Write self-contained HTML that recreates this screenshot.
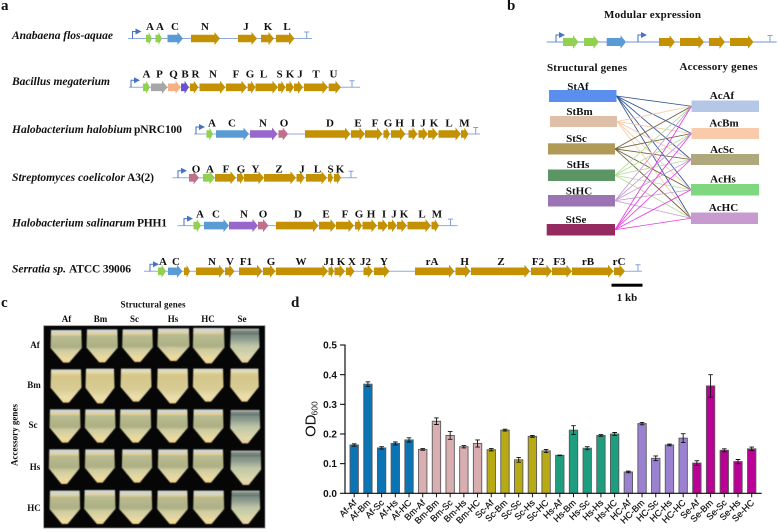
<!DOCTYPE html>
<html>
<head>
<meta charset="utf-8">
<style>
html,body{margin:0;padding:0;background:#fff;}
#fig{display:block;filter:blur(0.3px);}
text{font-family:"Liberation Serif",serif;font-weight:bold;fill:#111;}
.sans{font-family:"Liberation Sans",sans-serif;}
.reg{font-weight:normal;}
</style>
</head>
<body>
<svg id="fig" width="778" height="532" viewBox="0 0 778 532" xmlns="http://www.w3.org/2000/svg">
<defs>
<linearGradient id="tube-std" x1="0" y1="0" x2="0" y2="1">
<stop offset="0" stop-color="#d0d5cf"/><stop offset=".13" stop-color="#d4d6c2"/><stop offset=".2" stop-color="#b9bb90"/><stop offset=".52" stop-color="#adaf84"/><stop offset=".62" stop-color="#cfcba0"/><stop offset=".88" stop-color="#eadba2"/><stop offset="1" stop-color="#f2d284"/>
</linearGradient>
<linearGradient id="tube-yellow" x1="0" y1="0" x2="0" y2="1">
<stop offset="0" stop-color="#d8dccb"/><stop offset=".12" stop-color="#e0d9b2"/><stop offset=".2" stop-color="#d4c68a"/><stop offset=".6" stop-color="#d8cc94"/><stop offset=".85" stop-color="#ecdfae"/><stop offset="1" stop-color="#f2d590"/>
</linearGradient>
<linearGradient id="tube-grey" x1="0" y1="0" x2="0" y2="1">
<stop offset="0" stop-color="#c5c8bc"/><stop offset=".08" stop-color="#73827a"/><stop offset=".28" stop-color="#8a988d"/><stop offset=".5" stop-color="#bec5a6"/><stop offset=".85" stop-color="#dfd9ac"/><stop offset="1" stop-color="#eec9a0"/>
</linearGradient>
<filter id="soft" x="-5%" y="-5%" width="110%" height="110%"><feGaussianBlur stdDeviation="0.5"/></filter>
</defs>
<g id="panel-a"></g>
<g id="panel-b"></g>
<g id="panel-c"></g>
<g id="panel-d"></g>
</svg>
<script>
// ---- bar chart data (panel d) ----
const barCategories = ["Af-Af","Af-Bm","Af-Sc","Af-Hs","Af-HC","Bm-Af","Bm-Bm","Bm-Sc","Bm-Hs","Bm-HC","Sc-Af","Sc-Bm","Sc-Sc","Sc-Hs","Sc-HC","Hs-Af","Hs-Bm","Hs-Sc","Hs-Hs","Hs-HC","HC-Af","HC-Bm","HC-Sc","HC-Hs","HC-HC","Se-Af","Se-Bm","Se-Sc","Se-Hs","Se-HC"];
const odValues = [0.163,0.368,0.153,0.168,0.180,0.148,0.243,0.195,0.157,0.168,0.147,0.213,0.113,0.192,0.143,0.128,0.213,0.152,0.195,0.200,0.072,0.235,0.118,0.163,0.186,0.102,0.362,0.145,0.107,0.150];
const odErrors = [0.004,0.008,0.004,0.005,0.007,0.003,0.011,0.013,0.004,0.012,0.004,0.003,0.008,0.003,0.005,0.001,0.015,0.005,0.003,0.005,0.003,0.004,0.008,0.003,0.015,0.008,0.038,0.005,0.007,0.006];
const yTicks = ["0.0","0.1","0.2","0.3","0.4","0.5"];
const groupColors = {Af:"#0a74b4",Bm:"#d9aeb0",Sc:"#b8aa14",Hs:"#1f9e7f",HC:"#9b82d0",Se:"#bb0096"};

// ---- gene cluster data (panel a) ----
const geneColors = {g:"#c49102",l:"#92d050",b:"#5b9bd5",p:"#9966cc",o:"#c0708a",y:"#a6a6a6",q:"#f4b183",v:"#6a50d0"};
const tracks = [
 {label:"Anabaena flos-aquae",lx1:113,extra:"",ex0:0,ex1:0,ly:39,y:38.5,from:128,to:312,prom:132.5,term:306.7,ty:30,genes:[
  [146,152,"l","A",150],[155.5,162,"l","A",160],[167.5,183,"b","C",175],[191,220,"g","N",205],[238,257,"g","J",246],[261,274,"g","K",268],[276,294.5,"g","L",287]]},
 {label:"Bacillus megaterium",lx1:110,extra:"",ex0:0,ex1:0,ly:85,y:87.3,from:129,to:360,prom:131,term:352,ty:77.5,genes:[
  [143,150,"l","A",146.5],[151,167.5,"y","P",159.5],[168,181,"q","Q",173.5],[181,189,"v","B",185],[190,198.5,"g","R",195.5],[199.5,225.5,"g","N",213],[226,247,"g","F",236],[247.7,255.5,"g","G",250],[255.5,278,"g","L",263.5],[278,285.5,"g","S",279.5],[286,294,"g","K",290],[294,303,"g","J",300],[304,328,"g","T",316],[328.7,341,"g","U",333.5]]},
 {label:"Halobacterium halobium",lx1:132,extra:"pNRC100",ex0:134,ex1:182,ly:133,y:134,from:194,to:480,prom:196,term:475.7,ty:126.5,genes:[
  [206.5,213,"l","A",212],[216,249,"b","C",232],[250,277.5,"p","N",263],[278.5,288,"o","O",284],[305,350.5,"g","D",330],[351,365,"g","E",358],[365,382.5,"g","F",375],[383.5,390,"g","G",388],[391,405.5,"g","H",399.5],[408.5,417.5,"g","I",413],[418.5,428,"g","J",423],[428,438,"g","K",434],[438.5,461,"g","L",449],[461,468.5,"g","M",464.5]]},
 {label:"Streptomyces coelicolor",lx1:125,extra:"A3(2)",ex0:127,ex1:154,ly:181,y:177.8,from:172.5,to:357,prom:178,term:351,ty:172.5,genes:[
  [189,199,"o","O",196],[203,215,"l","A",210],[215,236,"g","F",226],[237,244,"g","G",241],[244,264,"g","Y",255.5],[264,296,"g","Z",279],[296.5,304.5,"g","J",302],[306,327,"g","L",317.5],[328,333,"g","S",330.5],[334,341,"g","K",340]]},
 {label:"Halobacterium salinarum",lx1:135,extra:"PHH1",ex0:137,ex1:167,ly:226.7,y:225.6,from:177.5,to:457.7,prom:184,term:450.5,ty:217.5,genes:[
  [193.5,201,"l","A",200],[204,229,"b","C",216],[229,258,"p","N",244],[258,268.5,"o","O",263],[276,318.5,"g","D",298],[319,336,"g","E",326],[336,354,"g","F",345],[355,362,"g","G",359],[362.5,377,"g","H",371],[378,388,"g","I",384],[388,397,"g","J",394],[397,407,"g","K",404],[407.5,431,"g","L",422],[431.5,439,"g","M",437]]},
 {label:"Serratia sp.",lx1:66,extra:"ATCC 39006",ex0:69,ex1:131,ly:272.7,y:271.3,from:144,to:642,prom:150,term:638,ty:265,genes:[
  [158,166,"l","A",163],[168,182.5,"b","C",176],[184,190,"g","",0],[196,224.5,"g","N",212],[225,234.5,"g","V",230],[239,262.5,"g","F1",246],[263,275.5,"g","G",271],[276,328,"g","W",301],[328.5,334,"g","J1",329],[334.5,345,"g","K",341],[346,354.5,"g","X",352],[363.5,373,"g","J2",365.5],[374,389.5,"g","Y",384],[415,454.5,"g","rA",432],[455.5,470.5,"g","H",464.7],[471,530,"g","Z",501],[531,552,"g","F2",538],[552,572,"g","F3",559.5],[572,613.5,"g","rB",588],[614,625,"g","rC",619]]}
];

// ---- modular expression data (panel b) ----
const structural = [
 {n:"StAf",x0:549,x1:616.5,y0:90,y1:102,c:"#5b8fef",lx:578,ly:90,line:"#2f5597"},
 {n:"StBm",x0:550,x1:617,y0:116,y1:127,c:"#e0bfa8",lx:579.5,ly:115,line:"#f6c9a8"},
 {n:"StSc",x0:548,x1:615,y0:143.3,y1:154.5,c:"#b09a58",lx:576.5,ly:142,line:"#6b6237"},
 {n:"StHs",x0:548,x1:615,y0:169.5,y1:181,c:"#5a9563",lx:578,ly:168,line:"#b6dc9a"},
 {n:"StHC",x0:548,x1:615,y0:195,y1:206.5,c:"#9b74b3",lx:579,ly:194.5,line:"#c59bd8"},
 {n:"StSe",x0:546.7,x1:615,y0:224,y1:235.5,c:"#942a60",lx:576,ly:223,line:"#e83ce0"}
];
const accessory = [
 {n:"AcAf",x0:691.5,x1:759,y0:100.5,y1:112,c:"#b4c7e7",lx:722,ly:99},
 {n:"AcBm",x0:691.5,x1:759,y0:128,y1:139,c:"#f9cbaa",lx:724,ly:126.5},
 {n:"AcSc",x0:691,x1:759,y0:154,y1:165,c:"#aea87c",lx:722,ly:153},
 {n:"AcHs",x0:691,x1:759,y0:184,y1:195.5,c:"#7fd87f",lx:723,ly:182.5},
 {n:"AcHC",x0:691,x1:758,y0:212.5,y1:224,c:"#c89bd0",lx:723.5,ly:211}
];
const moduleGenes = [[563,578.5,"l"],[584,599,"l"],[606.7,626,"b"],[659,675,"g"],[680,704,"g"],[709,725,"g"],[730,753.5,"g"]];

// ---- tube photo data (panel c) ----
const colLabels = [["Af",66.5],["Bm",100.5],["Sc",134.5],["Hs",173],["HC",208],["Se",242]];
const rowLabels = [["Af",35,348],["Bm",34,388],["Sc",33,428],["Hs",35,470],["HC",34,511]];
const tubeRows = [
 [[150,247,120,218,"std"],[258,355,118,217,"std"],[365,460,118,216,"std"],[471,570,115,213,"std"],[577,675,114,220,"std"],[689,780,116,218,"grey"]],
 [[150,246,238,338,"yellow"],[255,345,236,340,"yellow"],[360,456,236,335,"yellow"],[470,566,236,340,"yellow"],[577,672,236,335,"yellow"],[689,778,236,335,"yellow"]],
 [[147,243,358,458,"std"],[253,348,358,458,"std"],[358,455,358,458,"std"],[469,565,358,458,"std"],[578,672,358,458,"std"],[689,782,360,460,"grey"]],
 [[145,240,478,582,"std"],[253,346,478,578,"std"],[364,458,478,578,"std"],[472,566,478,578,"std"],[577,672,478,578,"std"],[690,785,482,585,"grey"]],
 [[147,242,602,702,"std"],[251,348,600,702,"std"],[356,458,602,702,"std"],[470,565,602,702,"std"],[578,674,602,702,"std"],[692,782,602,702,"grey"]]
];

const NS = "http://www.w3.org/2000/svg";
function mk(parent, tag, attrs, txt){
  const e = document.createElementNS(NS, tag);
  for (const k in attrs) e.setAttribute(k, attrs[k]);
  if (txt !== undefined) e.textContent = txt;
  parent.appendChild(e);
  return e;
}
function arrowPts(a, b, y, hh, sh){
  const len = b - a;
  const head = Math.min(5.5, len * 0.55);
  return [[a,y-sh],[b-head,y-sh],[b-head,y-hh],[b,y],[b-head,y+hh],[b-head,y+sh],[a,y+sh]].map(p=>p.join(",")).join(" ");
}
function promoter(g, x, y){
  const p = mk(g,"path",{d:`M${x} ${y}V${y-7}H${x+3}`,fill:"none",stroke:"#4472c4","stroke-width":1});
  
  
  const h = mk(g,"polygon",{points:`${x+3},${y-10} ${x+9},${y-7} ${x+3},${y-4}`,fill:"#4472c4"});
  
  
}
function terminator(g, x, y){
  const t = mk(g,"path",{d:`M${x-2.5} ${y-6.5}H${x+2.5}M${x} ${y-6.5}V${y}`,fill:"none",stroke:"#7f9fe0","stroke-width":1});
  
  
}

// Panel letters
const panelLetters = [["a",1,10],["b",507,10],["c",1,307],["d",291,307]];
const svgRoot = document.getElementById("fig");
panelLetters.forEach(p=>{
  const t = mk(svgRoot,"text",{x:p[1],y:p[2],"font-size":15},p[0]);
  
  
});

// Panel A
const pa = document.getElementById("panel-a");
tracks.forEach(tr=>{
  const lab = mk(pa,"text",{x:12,y:tr.ly,"font-size":11.5,"font-style":"italic",textLength:tr.lx1-12,lengthAdjust:"spacing"},tr.label);
  
  
  if (tr.extra){
    const ex = mk(pa,"text",{x:tr.ex0,y:tr.ly,"font-size":11.5,textLength:tr.ex1-tr.ex0,lengthAdjust:"spacing"},tr.extra);
    
    
  }
  const ln = mk(pa,"line",{x1:tr.from,x2:tr.to,y1:tr.y,y2:tr.y,stroke:"#8eaadb","stroke-width":1});
  
  
  promoter(pa, tr.prom, tr.y);
  terminator(pa, tr.term, tr.y);
  tr.genes.forEach(g=>{
    const ar = mk(pa,"polygon",{points:arrowPts(g[0],g[1],tr.y,6.5,3.8),fill:geneColors[g[2]]});
    
    
    if (g[3]){
      const tx = mk(pa,"text",{x:g[4],y:tr.ty,"font-size":11,"text-anchor":"middle"},g[3]);
      
      
    }
  });
});
const scale = mk(pa,"rect",{x:611.5,y:283.7,width:31,height:3,fill:"#000"});


const scaleText = mk(pa,"text",{x:627,y:301,"font-size":11,"text-anchor":"middle"},"1 kb");



// Panel B
const pb = document.getElementById("panel-b");
const bTitle = mk(pb,"text",{x:604,y:18,"font-size":11,textLength:97,lengthAdjust:"spacing"},"Modular expression");


const bLine = mk(pb,"line",{x1:546.7,x2:776.7,y1:42,y2:42,stroke:"#6f94dc","stroke-width":1});


promoter(pb,556,42);
promoter(pb,638,42);
terminator(pb,770,42);
moduleGenes.forEach(g=>{
  const a = mk(pb,"polygon",{points:arrowPts(g[0],g[1],42,6.8,4),fill:geneColors[g[2]]});
  
  
});
const sTitle = mk(pb,"text",{x:547,y:71,"font-size":11,textLength:80,lengthAdjust:"spacing"},"Structural genes");


const aTitle = mk(pb,"text",{x:679.5,y:70,"font-size":11,textLength:78,lengthAdjust:"spacing"},"Accessory genes");


structural.forEach(s=>{
  accessory.forEach(a=>{
    const l = mk(pb,"line",{x1:s.x1,y1:(s.y0+s.y1)/2,x2:a.x0,y2:(a.y0+a.y1)/2,stroke:s.line,"stroke-width":0.85});
    
    
  });
});
structural.concat(accessory).forEach(b=>{
  const r = mk(pb,"rect",{x:b.x0,y:b.y0,width:b.x1-b.x0,height:b.y1-b.y0,fill:b.c});
  
  
  const t = mk(pb,"text",{x:b.lx,y:b.ly,"font-size":11,"text-anchor":"middle"},b.n);
  
  
});

// Panel C
const pc = document.getElementById("panel-c");
const cTitle = mk(pc,"text",{x:120.5,y:307.5,"font-size":9,textLength:65,lengthAdjust:"spacing"},"Structural genes");


const cY = mk(pc,"text",{x:0,y:0,"font-size":9,transform:"translate(17.5 466) rotate(-90)",textLength:62,lengthAdjust:"spacing"},"Accessory genes");


colLabels.forEach(c=>{
  const t = mk(pc,"text",{x:c[1],y:322,"font-size":9,"text-anchor":"middle"},c[0]);
  
  
});
rowLabels.forEach(c=>{
  const t = mk(pc,"text",{x:c[1],y:c[2],"font-size":9,"text-anchor":"middle"},c[0]);
  
  
});
const photo = mk(pc,"rect",{x:43.7,y:325.7,width:221.3,height:202.3,fill:"#060606",stroke:"#8a8a8a","stroke-width":0.8});


const tubesG = mk(pc,"g",{filter:"url(#soft)"});


tubeRows.forEach(row=>row.forEach(t=>{
  const x0=t[0]/3, x1=t[1]/3, y0=290+t[2]/3, y1=290+t[3]/3;
  const w=x1-x0, h=y1-y0, m=(x0+x1)/2, sh=y0+h*0.55;
  const pts=[[x0+1,y0],[x1-1,y0],[x1-0.5,sh],[m+w*0.09,y1],[m-w*0.09,y1],[x0+0.5,sh]].map(p=>p.join(",")).join(" ");
  const tube = mk(tubesG,"polygon",{points:pts,fill:"url(#tube-"+t[4]+")"});
  
  
  const men = mk(tubesG,"line",{x1:x0+1,x2:x1-1,y1:y0+h*0.15,y2:y0+h*0.15,stroke:t[4]==="grey"?"#5f6f6c":"#ecc878","stroke-width":1.1});
  
  
}));

// Panel D
const pd = document.getElementById("panel-d");
const yMin = 0, yMax = 0.5;
const plotBottom = 493.3, plotTop = 345, firstCenter = 354.2, lastCenter = 751.7;
function yScale(v){ return plotBottom - (v - yMin) / (yMax - yMin) * (plotBottom - plotTop); }
function xScale(i){ return firstCenter + i * (lastCenter - firstCenter) / (barCategories.length - 1); }
const barW = 8.4;
barCategories.forEach((cat,i)=>{
  const cx = xScale(i), v = odValues[i], e = odErrors[i];
  const top = yScale(v);
  const col = groupColors[cat.split("-")[0]];
  const bar = mk(pd,"rect",{x:cx-barW/2,y:top,width:barW,height:plotBottom-top,fill:col,stroke:"#5a5a5a","stroke-width":0.9});
  
  
  const er = mk(pd,"path",{d:`M${cx} ${yScale(v+e)}V${yScale(v-e)}M${cx-2.3} ${yScale(v+e)}h4.6M${cx-2.3} ${yScale(v-e)}h4.6`,fill:"none",stroke:"#111","stroke-width":0.9});
  
  
  const tk = mk(pd,"line",{x1:cx,x2:cx,y1:plotBottom,y2:plotBottom+4,stroke:"#111","stroke-width":1});
  
  
  const lb = mk(pd,"text",{class:"sans reg","font-size":9,"text-anchor":"end",transform:`translate(${cx+3} ${plotBottom+10}) rotate(-45)`,"stroke":"#111","stroke-width":0.2},cat);
  
  
});
const axY = mk(pd,"line",{x1:345,x2:345,y1:plotTop-0.5,y2:plotBottom+0.6,stroke:"#111","stroke-width":1.2});


const axX = mk(pd,"line",{x1:344.4,x2:761.7,y1:plotBottom,y2:plotBottom,stroke:"#111","stroke-width":1.2});


yTicks.forEach(s=>{
  const y = yScale(parseFloat(s));
  const tk = mk(pd,"line",{x1:340,x2:345,y1:y,y2:y,stroke:"#111","stroke-width":1.1});
  
  
  const lb = mk(pd,"text",{class:"sans",x:337,y:y+3.6,"font-size":10,"text-anchor":"end"},s);
  
  
});
const yTitle = mk(pd,"text",{class:"sans reg","font-size":15,transform:"translate(315.5 437) rotate(-90)"},"OD");


const ySub = mk(pd,"text",{class:"sans reg","font-size":8.5,transform:"translate(317.5 415.5) rotate(-90)"},"600");


</script>
</body>
</html>
